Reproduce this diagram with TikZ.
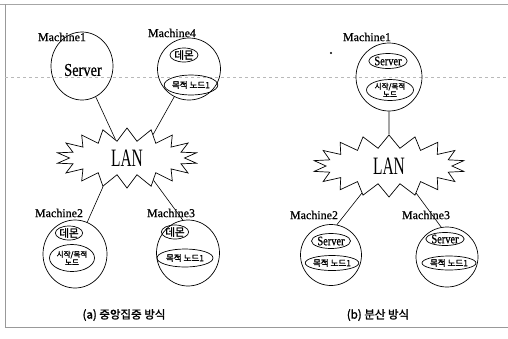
\documentclass[tikz,border=0pt]{standalone}
\usepackage{fontspec}
\setmainfont{Liberation Serif}
\newfontfamily\kr[FakeBold=1.6]{Noto Sans CJK KR}
\newfontfamily\mach[FakeBold=0.6]{Liberation Serif}
\newfontfamily\cond[FakeStretch=0.8,FakeBold=0.5]{Liberation Serif}
\newfontfamily\condx[FakeStretch=0.62]{Liberation Serif}
\usetikzlibrary{shapes.geometric,shapes.symbols}
\begin{document}
\begin{tikzpicture}[x=1pt,y=-1pt,
  machine/.style={draw,ellipse,inner sep=0pt,line width=0.7pt},
  inbox/.style={draw,ellipse,inner sep=0pt,line width=0.7pt},
  lab/.style={inner sep=0pt,font=\mach\fontsize{12}{12}\selectfont},
  krsm/.style={font=\kr\fontsize{8.5}{9}\selectfont},
  krdm/.style={font=\kr\fontsize{10.5}{10.5}\selectfont},
  krtwo/.style={font=\kr\fontsize{7.5}{8}\selectfont,align=center},
  srvs/.style={font=\cond\fontsize{13}{13}\selectfont},
  lan/.style={draw,starburst,starburst points=18,starburst point height=13pt,random starburst=0,inner sep=0pt,line width=0.7pt,font=\condx\fontsize{25}{25}\selectfont},
  link/.style={line width=0.6pt},
  captext/.style={font=\kr\fontsize{11.5}{11.5}\selectfont}]
\useasboundingbox (0,0) rectangle (508,338);
% frame and scan marks
\draw[gray!70,line width=0.8pt] (0,4) -- (508,4);
\draw[gray!80,line width=0.8pt] (5,4) -- (5,327) -- (508,327);
\draw[gray!55,dashed,line width=0.6pt] (5,77) -- (508,77);
\fill (331,53) circle (1.2);
% ---------------- (a) ----------------
\node[machine,minimum width=62pt,minimum height=68pt] (m1a) at (82,66) {};
\node[font=\cond\fontsize{18}{18}\selectfont] (srva) at (83,70) {Server};
\node[lab] (l1a) at (62,37) {Machine1};
\node[machine,minimum width=63pt,minimum height=62pt] (m4a) at (189,69) {};
\node[lab] (l4a) at (172,33) {Machine4};
\node[inbox,minimum width=28pt,minimum height=14pt,krdm] (d4a) at (184,55) {데몬};
\node[inbox,minimum width=52pt,minimum height=20pt,krsm] (t4a) at (191,85) {목적 노드1};
\node[lan,minimum width=141pt,minimum height=60pt] (lana) at (127,158) {LAN};
\node[lab] (l2a) at (59,213) {Machine2};
\node[machine,minimum width=64pt,minimum height=68pt] (m2a) at (75,254) {};
\node[inbox,minimum width=26pt,minimum height=14pt,krdm] (d2a) at (69,233) {데몬};
\node[inbox,minimum width=45pt,minimum height=27pt,krtwo] (s2a) at (72,258) {시작/목적\\노드};
\node[lab] (l3a) at (171,213) {Machine3};
\node[machine,minimum width=63pt,minimum height=66pt] (m3a) at (188,253) {};
\node[inbox,minimum width=26pt,minimum height=14pt,krdm] (d3a) at (175,232) {데몬};
\node[inbox,minimum width=56pt,minimum height=18pt,krsm] (t3a) at (185,258) {목적 노드1};
\draw[link] (m1a.-66) -- (lana.122);
\draw[link] (m4a.-118) -- (lana.42);
\draw[link] (m2a.69) -- (lana.-130);
\draw[link] (m3a.99) -- (lana.-40);
\node[captext] (capa) at (124,315) {(a) 중앙집중 방식};
% ---------------- (b) ----------------
\node[lab] (l1b) at (367,37) {Machine1};
\node[machine,minimum width=66pt,minimum height=68pt] (m1b) at (389,77) {};
\node[inbox,minimum width=38pt,minimum height=15pt,srvs] (s1b) at (388,61) {Server};
\node[inbox,minimum width=47pt,minimum height=21pt,krtwo] (t1b) at (390,90) {시작/목적\\노드};
\node[lan,minimum width=152pt,minimum height=62pt] (lanb) at (389,166) {LAN};
\node[lab] (l2b) at (314,215) {Machine2};
\node[machine,minimum width=61pt,minimum height=61pt] (m2b) at (331,255) {};
\node[inbox,minimum width=39pt,minimum height=15pt,srvs] (s2b) at (331,241) {Server};
\node[inbox,minimum width=50pt,minimum height=15pt,krsm] (t2b) at (332,263) {목적 노드1};
\node[lab] (l3b) at (426,215) {Machine3};
\node[machine,minimum width=62pt,minimum height=60pt] (m3b) at (447,257) {};
\node[inbox,minimum width=37pt,minimum height=13pt,srvs] (s3b) at (445,239) {Server};
\node[inbox,minimum width=54pt,minimum height=14pt,krsm] (t3b) at (449,263) {목적 노드1};
\draw[link] (m1b.south) -- (lanb.north);
\draw[link] (m2b.79) -- (lanb.-135);
\draw[link] (m3b.101) -- (lanb.-45);
\node[captext] (capb) at (378,315) {(b) 분산 방식};
\end{tikzpicture}
\end{document}
